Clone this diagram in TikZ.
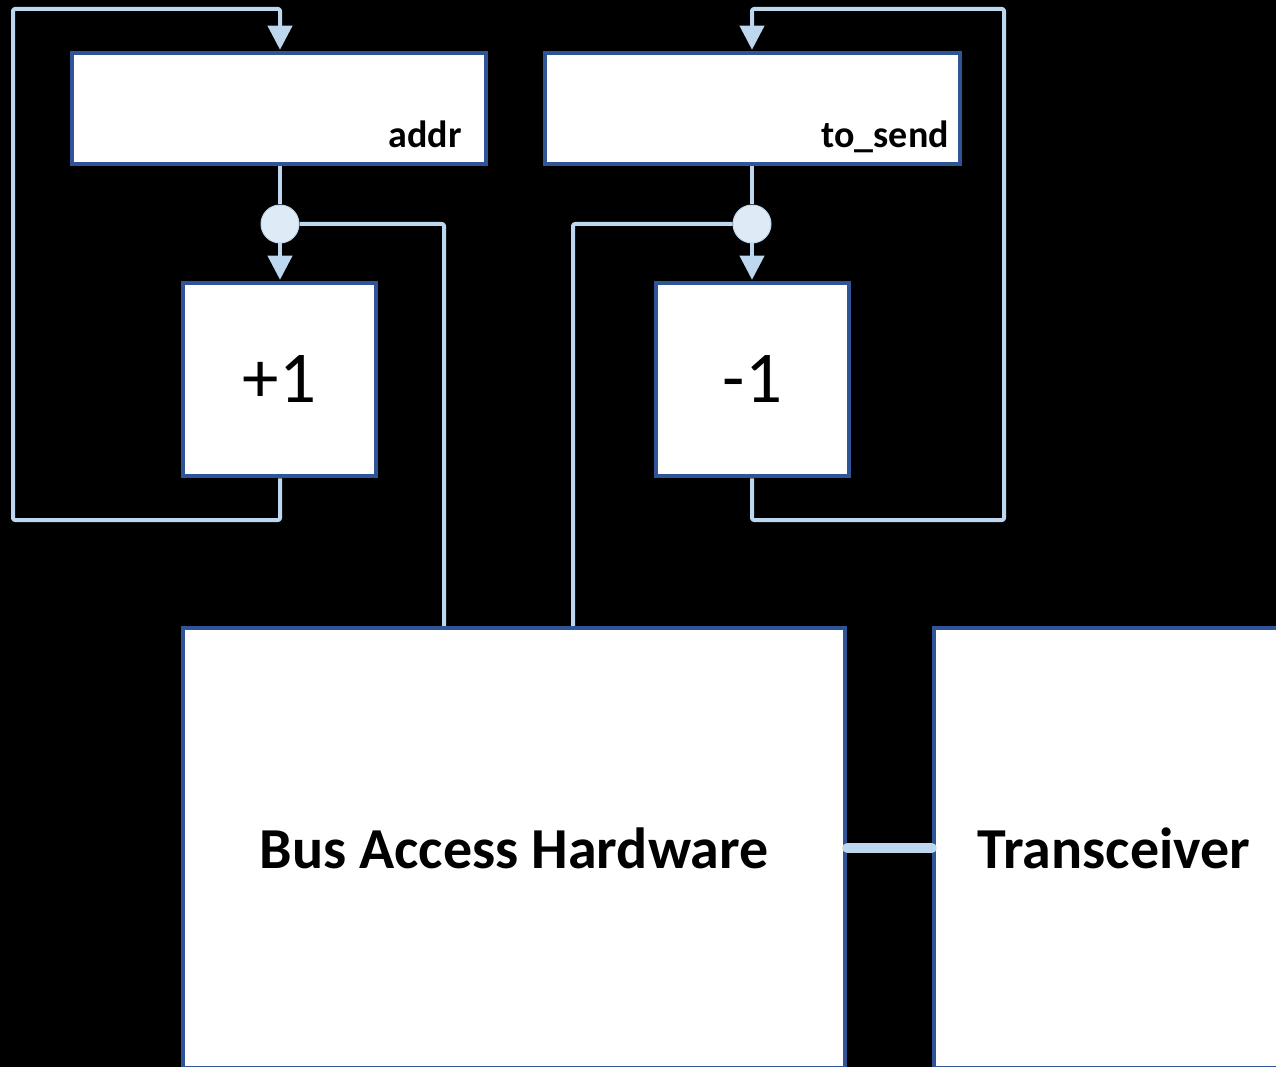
\documentclass[tikz,border=0pt]{standalone}
\usepackage{fontspec}
\setmainfont{Carlito}
\usetikzlibrary{arrows.meta}
\definecolor{boxblue}{HTML}{2F5597}
\definecolor{wireblue}{HTML}{BDD7EE}
\definecolor{dotblue}{HTML}{DEEBF7}
\begin{document}
\begin{tikzpicture}[x=1pt,y=-1pt,
  blk/.style={draw=boxblue,line width=4.5pt,fill=white,inner sep=0pt},
  wire/.style={draw=wireblue,line width=4pt,line join=round,rounded corners=2pt},
  arr/.style={wire,-{Triangle[width=24pt,length=24pt]},shorten >=1pt},
  dot/.style={circle,fill=dotblue,draw=wireblue,line width=1pt,minimum size=38pt,inner sep=0pt},
  reglabel/.style={font=\bfseries\fontsize{38}{42}\selectfont,anchor=base east,inner sep=0pt},
  oplabel/.style={font=\fontsize{73}{76}\selectfont},
  biglabel/.style={font=\bfseries\fontsize{58}{60}\selectfont}]
\fill[black] (0,0) rectangle (1276,1067);
\useasboundingbox (0,0) rectangle (1276,1067);
\clip (0,0) rectangle (1276,1067);

% blocks
\node[blk,minimum width=414pt,minimum height=111pt] (addr) at (279,108.5) {};
\node[blk,minimum width=415pt,minimum height=111pt] (tosend) at (752.5,108.5) {};
\node[reglabel] (addrlbl) at (462,148) {addr};
\node[reglabel] (tosendlbl) at (949,148) {to\_send};
\node[blk,oplabel,minimum width=193pt,minimum height=193pt] (inc) at (279.5,379.5) {+1};
\node[blk,oplabel,minimum width=193pt,minimum height=193pt] (dec) at (752.5,379.5) {-1};
\node[blk,biglabel,minimum width=662pt,minimum height=440pt] (bus) at (514,848) {Bus Access Hardware};
\node[blk,biglabel,minimum width=360pt,minimum height=440pt] (trx) at (1114,848) {Transceiver};

% junction dots
\node[dot] (j1) at (280,224) {};
\node[dot] (j2) at (752,224) {};

% wires
\draw[wire] (addr.south -| j1) -- (j1);
\draw[wire] (tosend.south -| j2) -- (j2);
\draw[arr] (j1.south) -- (inc.north -| j1);
\draw[arr] (j2.south) -- (dec.north -| j2);

\draw[arr] (inc.south -| j1) |- (13,520) |- (j1 |- 0,9) -- (addr.north -| j1);
\draw[arr] (dec.south -| j2) |- (1004,520) |- (j2 |- 0,9) -- (tosend.north -| j2);

\draw[wire] (j1.east) -| (bus.north -| 444,0);
\draw[wire] (j2.west) -| (bus.north -| 573,0);

\draw[draw=wireblue,line width=10pt,line cap=round] (bus.east) -- (trx.west);
\end{tikzpicture}
\end{document}
